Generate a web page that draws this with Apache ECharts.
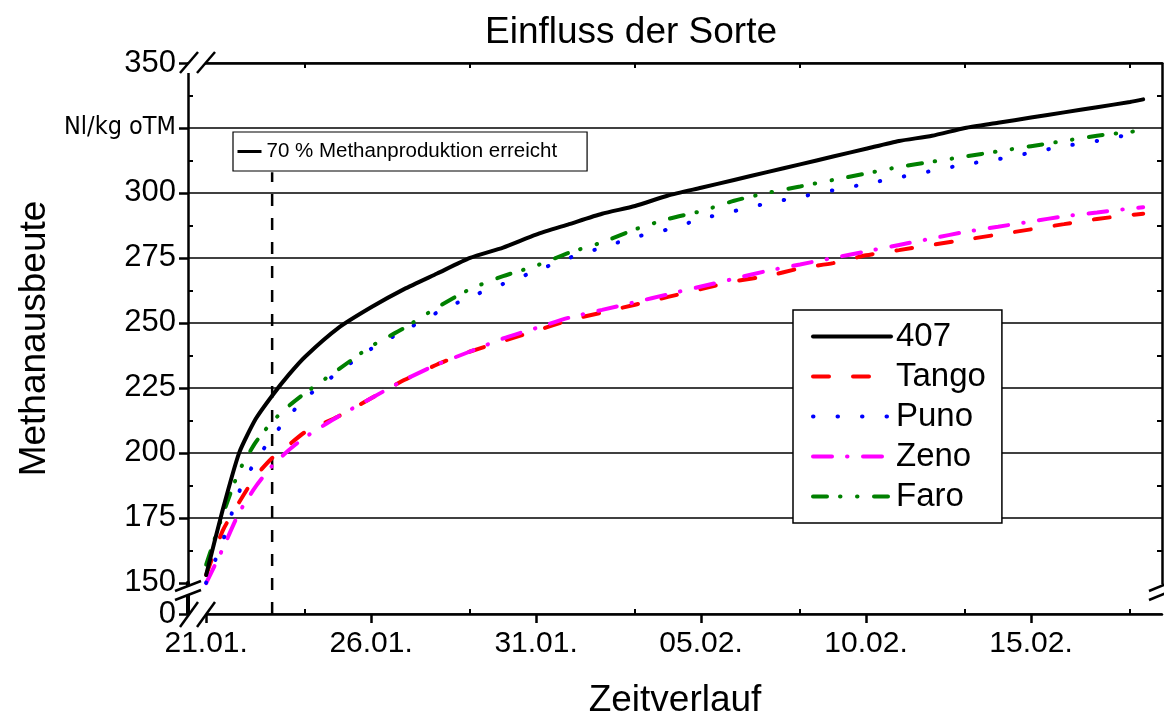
<!DOCTYPE html>
<html>
<head>
<meta charset="utf-8">
<script src="https://cdn.jsdelivr.net/npm/echarts@6/dist/echarts.min.js"></script>
<style>
html, body { margin: 0; padding: 0; background: #fff; }
#chart { width: 1164px; height: 719px; }
</style>
</head>
<body>
<div id="chart"></div>
<script>
// Tage ab 21.01.
const startDay = -0.55;
const days = [0, 0.5, 1, 1.5, 2, 2.5, 3, 4, 5, 6, 7, 8, 9, 10, 11, 12, 13, 14, 15, 16,
    17, 18, 19, 20, 21, 22, 23, 24, 25, 26, 27, 28, 28.4];

const v407 = [153, 178, 200, 213, 222, 230, 237, 248, 256, 263, 269, 275, 279, 284, 288, 292, 295,
    299, 302, 305, 308, 311, 314, 317, 320, 322, 325, 327, 329, 331, 333, 335, 336];
const vTango = [153, 170, 181, 191, 198, 203, 208, 214, 221, 228, 234, 239, 243, 247, 251, 254, 257,
    260, 263, 266, 268, 271, 273, 276, 278, 280, 282, 284, 286, 288, 290, 291.5, 292];
const vPuno = [150, 166, 185, 197, 206, 214, 221, 231, 240, 247, 254, 260, 265, 270, 275, 279, 283,
    286, 290, 293, 296, 298.5, 301, 303.5, 306, 308.5, 311, 313, 315.5, 318, 320, 322.5, 323.5];
const vZeno = [148, 163, 177, 187, 195, 201, 206, 214, 221, 228, 234, 239, 244, 248, 252, 255, 258,
    261, 264, 267, 270, 272.5, 275, 277.5, 280, 282.5, 285, 287, 289, 291, 292.5, 294, 294.5];
const vFaro = [157, 176, 193, 204, 212, 218, 223, 232, 241, 248, 256, 263, 268, 272, 277, 281, 286,
    290, 293, 297, 300, 302.5, 305, 307.5, 310, 312, 314, 316, 318, 320, 322, 323.5, 324];

const tickDays = [0, 5, 10, 15, 20, 25];
const tickLabels = ['21.01.', '26.01.', '31.01.', '05.02.', '10.02.', '15.02.'];
const minorDays = [3, 8, 13, 18, 23, 28];
const minorY = [162.5, 187.5, 212.5, 237.5, 262.5, 287.5, 312.5, 337.5];

// 70 % Methanproduktion erreicht
const markDay = 2;
const markTop = 308;
const markName = '70 % Methanproduktion erreicht';

const font = 'Liberation Sans, Arial, sans-serif';
const xMin = startDay;
const xMax = 28.97;
const yBreak = [{ start: 0, end: 150, gap: 12 }];

const toData = (vals) => {
    const res = [[startDay, 0], [startDay, 150], [startDay + 0.1, '-']];
    days.forEach((d, i) => res.push([d, vals[i]]));
    return res;
};

const makeLine = (name, vals, color, type) => ({
    name,
    type: 'line',
    xAxisIndex: 0,
    yAxisIndex: 0,
    symbol: 'none',
    smooth: 0.2,
    connectNulls: false,
    lineStyle: { color, width: 4, type, cap: 'round' },
    itemStyle: { color },
    data: toData(vals),
});

const breakMark = (x1, y1, x2, y2, dx, dy) => ([
    {
        type: 'polygon', z: 100,
        shape: { points: [[x1, y1], [x2, y2], [x2 + dx, y2 + dy], [x1 + dx, y1 + dy]] },
        style: { fill: '#fff', stroke: null },
    },
    { type: 'line', z: 101, shape: { x1, y1, x2, y2 }, style: { stroke: '#000', lineWidth: 2.5 } },
    { type: 'line', z: 101, shape: { x1: x1 + dx, y1: y1 + dy, x2: x2 + dx, y2: y2 + dy }, style: { stroke: '#000', lineWidth: 2.5 } },
]);

const chart = echarts.init(document.getElementById('chart'));
const option = {
    animation: false,
    backgroundColor: '#fff',
    textStyle: { fontFamily: font, color: '#000' },
    title: {
        text: 'Einfluss der Sorte',
        left: 626,
        textAlign: 'center',
        top: 9,
        textStyle: { fontSize: 37, fontWeight: 'normal', color: '#000', fontFamily: font },
    },
    grid: { left: 188, right: 2, top: 63, bottom: 105, outerBoundsMode: 'none', containLabel: false },
    legend: [
        {
            data: ['407', 'Tango', 'Puno', 'Zeno', 'Faro'],
            orient: 'vertical',
            left: 793,
            top: 310,
            itemWidth: 78,
            itemHeight: 14,
            itemGap: 5,
            backgroundColor: '#fff',
            borderColor: '#000',
            borderWidth: 1.5,
            borderRadius: 0,
            padding: [9, 16, 9, 18],
            itemStyle: { color: 'rgba(0,0,0,0)', borderWidth: 0 },
            lineStyle: { width: 4, cap: 'round' },
            textStyle: { fontSize: 33, color: '#000', fontFamily: font, lineHeight: 35 },
        },
        {
            data: [{ name: markName, lineStyle: { type: 'solid', width: 3 } }],
            left: 233,
            top: 132,
            itemWidth: 24,
            itemHeight: 10,
            backgroundColor: '#fff',
            borderColor: '#000',
            borderWidth: 1.2,
            borderRadius: 0,
            padding: [9, 30, 9, 3],
            itemStyle: { color: 'rgba(0,0,0,0)', borderWidth: 0 },
            textStyle: { fontSize: 20.5, color: '#000', fontFamily: font },
        },
    ],
    xAxis: [
        {
            type: 'value',
            min: xMin,
            max: xMax,
            position: 'bottom',
            name: 'Zeitverlauf',
            nameLocation: 'middle',
            nameGap: 68,
            nameTextStyle: { fontSize: 37, color: '#000', fontFamily: font },
            axisLine: { show: true, onZero: false, lineStyle: { color: '#000', width: 2.5 } },
            axisTick: { show: true, customValues: tickDays, length: 9, lineStyle: { color: '#000', width: 2.5 } },
            axisLabel: {
                customValues: tickDays,
                fontSize: 30,
                color: '#000',
                fontFamily: font,
                margin: 15,
                formatter: (v) => tickLabels[tickDays.indexOf(v)] || '',
            },
            splitLine: { show: false },
        },
        {
            type: 'value',
            min: xMin,
            max: xMax,
            position: 'bottom',
            offset: 0,
            axisLine: { show: false, onZero: false },
            axisTick: { show: true, inside: true, customValues: minorDays, length: 5, lineStyle: { color: '#000', width: 2 } },
            axisLabel: { show: false },
            splitLine: { show: false },
        },
        {
            type: 'value',
            min: xMin,
            max: xMax,
            position: 'top',
            axisLine: { show: true, onZero: false, lineStyle: { color: '#000', width: 2.5 } },
            axisTick: { show: true, inside: true, customValues: minorDays, length: 5, lineStyle: { color: '#000', width: 2 } },
            axisLabel: { show: false },
            splitLine: { show: false },
        },
    ],
    yAxis: [
        {
            type: 'value',
            min: 0,
            max: 350,
            interval: 25,
            position: 'left',
            breaks: yBreak,
            breakArea: { show: false, expandOnClick: false },
            name: 'Methanausbeute',
            nameLocation: 'middle',
            nameGap: 117,
            nameTextStyle: { fontSize: 37, color: '#000', fontFamily: font },
            axisLine: { show: true, onZero: false, lineStyle: { color: '#000', width: 2.5 } },
            axisTick: { show: true, length: 9, lineStyle: { color: '#000', width: 2.5 } },
            axisLabel: {
                fontSize: 31,
                color: '#000',
                fontFamily: font,
                margin: 12,
                formatter: (v) => (v === 325 ? '{u|Nl/kg oTM}' : String(v)),
                rich: { u: { fontSize: 25, fontFamily: 'Liberation Sans Narrow, DejaVu Sans Condensed, Arial, sans-serif', color: '#000' } },
            },
            splitLine: { show: true, lineStyle: { color: '#000', width: 1.6 } },
        },
        {
            type: 'value',
            min: 0,
            max: 350,
            position: 'left',
            offset: 0,
            breaks: yBreak,
            breakArea: { show: false },
            axisLine: { show: false, onZero: false },
            axisTick: { show: true, inside: true, customValues: minorY, length: 5, lineStyle: { color: '#000', width: 2 } },
            axisLabel: { show: false },
            splitLine: { show: false },
        },
        {
            type: 'value',
            min: 0,
            max: 350,
            position: 'right',
            breaks: yBreak,
            breakArea: { show: false },
            axisLine: { show: true, onZero: false, lineStyle: { color: '#000', width: 2.5 } },
            axisTick: { show: true, inside: true, customValues: minorY, length: 5, lineStyle: { color: '#000', width: 2 } },
            axisLabel: { show: false },
            splitLine: { show: false },
        },
    ],
    series: [
        {
            name: markName,
            type: 'line',
            symbol: 'none',
            lineStyle: { color: '#000', width: 2.5, type: [12, 12] },
            itemStyle: { color: '#000' },
            data: [[markDay, 0], [markDay, markTop]],
        },
        makeLine('Tango', vTango, '#ff0000', [16, 24]),
        makeLine('Zeno', vZeno, '#ff00ff', [19, 15, 0.5, 15.5]),
        makeLine('Puno', vPuno, '#0000ff', [0.5, 24]),
        makeLine('Faro', vFaro, '#008000', [14, 13, 0.5, 16.5, 0.5, 16.5]),
        makeLine('407', v407, '#000000', 'solid'),
    ],
    graphic: [
        ...breakMark(180, 73, 198, 52, 17, 0),
        ...breakMark(180, 627, 198, 602, 17, 0),
        ...breakMark(175, 591, 201, 581, 0, 9),
        ...breakMark(1149, 591, 1166, 584, 0, 9),
    ],
};
chart.setOption(option);
</script>
</body>
</html>
